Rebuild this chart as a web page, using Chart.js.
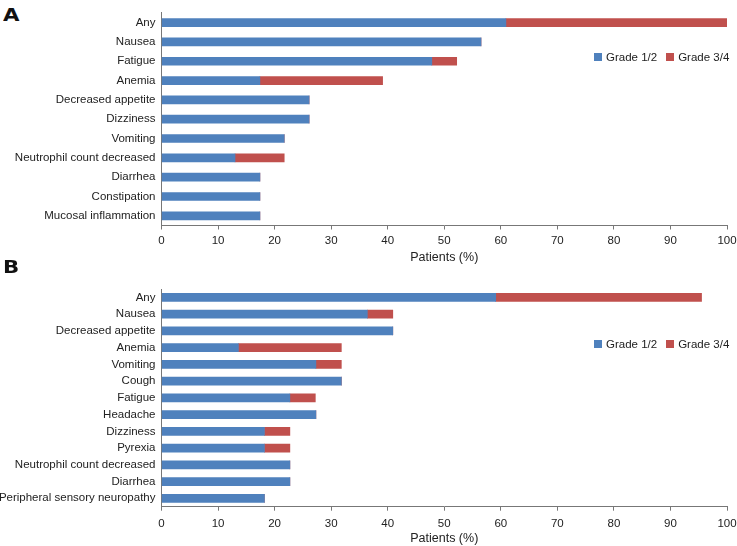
<!DOCTYPE html>
<html>
<head>
<meta charset="utf-8">
<script src="https://cdn.jsdelivr.net/npm/chart.js@4.4.0/dist/chart.umd.min.js"></script>
<style>
  body { margin: 0; background: #fff; font-family: "Liberation Sans", Arial, sans-serif; }
  #wrap { position: relative; width: 737px; height: 546px; overflow: hidden; }
  .panel { position: absolute; left: 0; width: 737px; }
  .tag { position: absolute; font-family: "DejaVu Sans", sans-serif; font-weight: bold;
         font-size: 18.5px; line-height: 18.5px; color: #111;
         transform: scaleX(1.15); transform-origin: left top; }
  .legend { position: absolute; font-size: 11.5px; line-height: 13px; color: #222; white-space: nowrap; }
  .legend .item { display: inline-block; margin-right: 9px; }
  .legend .box { display: inline-block; width: 8px; height: 8px; margin-right: 4px; vertical-align: -0.5px; }
</style>
</head>
<body>
<div id="wrap">
  <div class="tag" style="left:3px; top:6.1px;">A</div>
  <div class="panel" style="top:0; height:272px;"><canvas id="chartA" width="737" height="272"></canvas></div>
  <div class="legend" id="legendA" style="left:594px; top:50.5px;"></div>

  <div class="tag" style="left:2.5px; top:257.8px;">B</div>
  <div class="panel" style="top:272px; height:274px;"><canvas id="chartB" width="737" height="274"></canvas></div>
  <div class="legend" id="legendB" style="left:594px; top:337.5px;"></div>
</div>

<script>
// Панель A: категорії та відсотки пацієнтів
const categoriesA = ["Any", "Nausea", "Fatigue", "Anemia", "Decreased appetite", "Dizziness",
  "Vomiting", "Neutrophil count decreased", "Diarrhea", "Constipation", "Mucosal inflammation"];
const grade12A = [60.9, 56.5, 47.8, 17.4, 26.1, 26.1, 21.7, 13.0, 17.4, 17.4, 17.4];
const grade34A = [39.1, 0, 4.4, 21.7, 0, 0, 0, 8.7, 0, 0, 0];

// Панель B
const categoriesB = ["Any", "Nausea", "Decreased appetite", "Anemia", "Vomiting", "Cough",
  "Fatigue", "Headache", "Dizziness", "Pyrexia", "Neutrophil count decreased", "Diarrhea",
  "Peripheral sensory neuropathy"];
const grade12B = [59.1, 36.4, 40.9, 13.6, 27.3, 31.8, 22.7, 27.3, 18.2, 18.2, 22.7, 22.7, 18.2];
const grade34B = [36.4, 4.5, 0, 18.2, 4.5, 0, 4.5, 0, 4.5, 4.5, 0, 0, 0];

const xTicks = [0, 10, 20, 30, 40, 50, 60, 70, 80, 90, 100];
const seriesNames = ["Grade 1/2", "Grade 3/4"];
const seriesColors = ["#4F81BD", "#C0504D"];

Chart.defaults.font.family = '"Liberation Sans", Arial, sans-serif';
Chart.defaults.color = "#222";

// Побудова одного горизонтального stacked-графіка
function makeChart(canvasId, categories, g12, g34, lay) {
  const ctx = document.getElementById(canvasId).getContext("2d");
  return new Chart(ctx, {
    type: "bar",
    data: {
      labels: categories,
      datasets: [
        { label: seriesNames[0], data: g12, backgroundColor: seriesColors[0], borderWidth: 0, barThickness: 8 },
        { label: seriesNames[1], data: g34, backgroundColor: seriesColors[1], borderWidth: 0, barThickness: 8 },
      ],
    },
    options: {
      indexAxis: "y",
      responsive: false,
      animation: false,
      layout: { padding: { top: lay.top, right: 10, left: 0, bottom: 0 } },
      plugins: { legend: { display: false }, tooltip: { enabled: false } },
      scales: {
        x: {
          stacked: true,
          min: xTicks[0],
          max: xTicks[xTicks.length - 1],
          afterBuildTicks: (axis) => { axis.ticks = xTicks.map((v) => ({ value: v })); },
          ticks: { font: { size: 11.5 }, padding: lay.tickPad, maxRotation: 0, autoSkip: false },
          grid: { drawOnChartArea: false, drawTicks: true, tickLength: 4, color: "#777" },
          border: { display: true, color: "#777", width: 1 },
          title: { display: true, text: "Patients (%)", font: { size: 12.5 }, padding: { top: 0, bottom: lay.titlePad } },
          afterFit: (axis) => {
            axis.height = lay.xHeight;
            // підписи "0" і "100" можуть виходити за межі області графіка
            axis.paddingLeft = 0;
            axis.paddingRight = 0;
          },
        },
        y: {
          stacked: true,
          ticks: { font: { size: 11.5 }, padding: 6, autoSkip: false },
          grid: { display: false, drawTicks: false },
          border: { display: true, color: "#777", width: 1 },
          afterFit: (axis) => { axis.width = 161.5; },
        },
      },
    },
  });
}

// Легенда як звичайний HTML
function renderLegend(containerId) {
  const el = document.getElementById(containerId);
  el.innerHTML = seriesNames.map((name, i) =>
    `<span class="item"><span class="box" style="background:${seriesColors[i]}"></span>${name}</span>`
  ).join("");
}

function main() {
  makeChart("chartA", categoriesA, grade12A, grade34A, { top: 6, tickPad: 4, titlePad: 7, xHeight: 46.5 });
  makeChart("chartB", categoriesB, grade12B, grade34B, { top: 17, tickPad: 6, titlePad: 0, xHeight: 39.3 });
  renderLegend("legendA");
  renderLegend("legendB");
}

document.addEventListener("DOMContentLoaded", main);
</script>
</body>
</html>
